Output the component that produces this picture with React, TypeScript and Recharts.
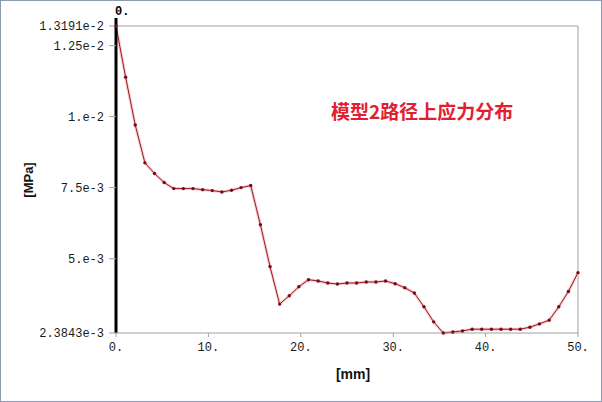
import React from 'react';
import { LineChart, Line, XAxis, YAxis, ReferenceLine } from 'recharts';

// path distance [mm] and stress [MPa] along path 2
const distance = [
  0, 1.04, 2.08, 3.13, 4.17, 5.21, 6.25, 7.29, 8.33, 9.38, 10.42, 11.46, 12.5, 13.54, 14.58, 15.63,
  16.67, 17.71, 18.75, 19.79, 20.83, 21.88, 22.92, 23.96, 25, 26.04, 27.08, 28.13, 29.17, 30.21,
  31.25, 32.29, 33.33, 34.38, 35.42, 36.46, 37.5, 38.54, 39.58, 40.63, 41.67, 42.71, 43.75, 44.79,
  45.83, 46.88, 47.92, 48.96, 50,
];
const stress = [
  0.013191, 0.01139, 0.009707, 0.008374, 0.007999, 0.00768, 0.007467, 0.007467, 0.007467, 0.00743,
  0.007397, 0.00735, 0.007408, 0.007503, 0.007574, 0.006195, 0.004721, 0.003402, 0.003695, 0.004013,
  0.004261, 0.004215, 0.004144, 0.004109, 0.004144, 0.004144, 0.00418, 0.00418, 0.004215, 0.00412,
  0.003978, 0.00379, 0.003306, 0.002776, 0.0023843, 0.002422, 0.002458, 0.002518, 0.002518, 0.002518,
  0.002518, 0.002518, 0.002518, 0.002589, 0.002705, 0.002836, 0.003306, 0.003847, 0.004509,
];

const xTicks = [0, 10, 20, 30, 40, 50];
const xTickLabels = ['0.', '10.', '20.', '30.', '40.', '50.'];
const yTicks = [0.0023843, 0.005, 0.0075, 0.01, 0.0125, 0.013191];
const yTickLabels = ['2.3843e-3', '5.e-3', '7.5e-3', '1.e-2', '1.25e-2', '1.3191e-2'];

const title = '模型2路径上应力分布';
const xTitle = '[mm]';
const yTitle = '[MPa]';
const cursorLabel = '0.';

const data = distance.map((d, i) => ({ d, s: stress[i] }));

const mono = 'Liberation Mono, DejaVu Sans Mono, monospace';
const tickStyle = { fill: '#1a1a1a', fontSize: 12, fontFamily: mono };

// probe cursor: sticks out a little above the plot area
const CursorLine = (props: any) => {
  const top = Math.min(props.y1, props.y2);
  const bottom = Math.max(props.y1, props.y2);
  return <line x1={props.x1} x2={props.x2} y1={top - 8} y2={bottom} stroke="#000" strokeWidth={3} />;
};

const App: React.FC = () => {
  return (
    <div style={{ position: 'absolute', left: 0, top: 0, width: 602, height: 402, background: '#fff' }}>
      <LineChart width={602} height={402} data={data} margin={{ top: 26, right: 24, left: 0, bottom: 39 }}>
        <XAxis
          dataKey="d"
          type="number"
          domain={[0, 50]}
          ticks={xTicks}
          interval={0}
          tickFormatter={(v: number) => xTickLabels[xTicks.indexOf(v)]}
          stroke="#a0a0a0"
          tick={tickStyle}
          tickSize={4}
          tickMargin={5}
          height={30}
          label={(p: any) => {
            const vb = p.viewBox;
            return (
              <text x={vb.x + vb.width / 2 + 6} y={vb.y + 46} textAnchor="middle" fontFamily="Liberation Sans, Arial" fontWeight="bold" fontSize={14} fill="#111">
                {xTitle}
              </text>
            );
          }}
        />
        <YAxis
          type="number"
          domain={[yTicks[0], yTicks[yTicks.length - 1]]}
          ticks={yTicks}
          interval={0}
          tickFormatter={(v: number) => yTickLabels[yTicks.indexOf(v)]}
          axisLine={false}
          tickLine={{ stroke: '#a0a0a0' }}
          tick={tickStyle}
          tickSize={7}
          tickMargin={5}
          width={116}
          label={(p: any) => {
            const vb = p.viewBox;
            return (
              <text x={28} y={vb.y + 154} transform={`rotate(-90 28 ${vb.y + 154})`} textAnchor="middle" dominantBaseline="central" fontFamily="Liberation Sans, Arial" fontWeight="bold" fontSize={13} fill="#111">
                {yTitle}
              </text>
            );
          }}
        />
        <ReferenceLine y={yTicks[yTicks.length - 1]} stroke="#a0a0a0" />
        <ReferenceLine x={50} stroke="#a0a0a0" />
        <Line dataKey="s" stroke="#f6cfcf" strokeWidth={3} dot={false} activeDot={false} isAnimationActive={false} />
        <Line dataKey="s" stroke="#a01820" strokeWidth={1} dot={{ r: 1.7, fill: '#7a0a1a', stroke: 'none' }} activeDot={false} isAnimationActive={false} />
        <ReferenceLine
          x={0}
          shape={CursorLine}
          label={(p: any) => (
            <text x={p.viewBox.x - 1} y={p.viewBox.y - 11} fontFamily={mono} fontWeight="bold" fontSize={12} fill="#000">
              {cursorLabel}
            </text>
          )}
        />
      </LineChart>
      <div
        style={{
          position: 'absolute',
          left: 331,
          top: 100,
          fontFamily: 'Noto Sans CJK SC, sans-serif',
          fontWeight: 'bold',
          fontSize: 19,
          lineHeight: '22px',
          color: '#e02030',
          whiteSpace: 'nowrap',
        }}
      >
        {title}
      </div>
      <div
        style={{
          position: 'absolute',
          inset: 0,
          border: '1px solid #8b9bb3',
          pointerEvents: 'none',
        }}
      />
    </div>
  );
};

export default App;
